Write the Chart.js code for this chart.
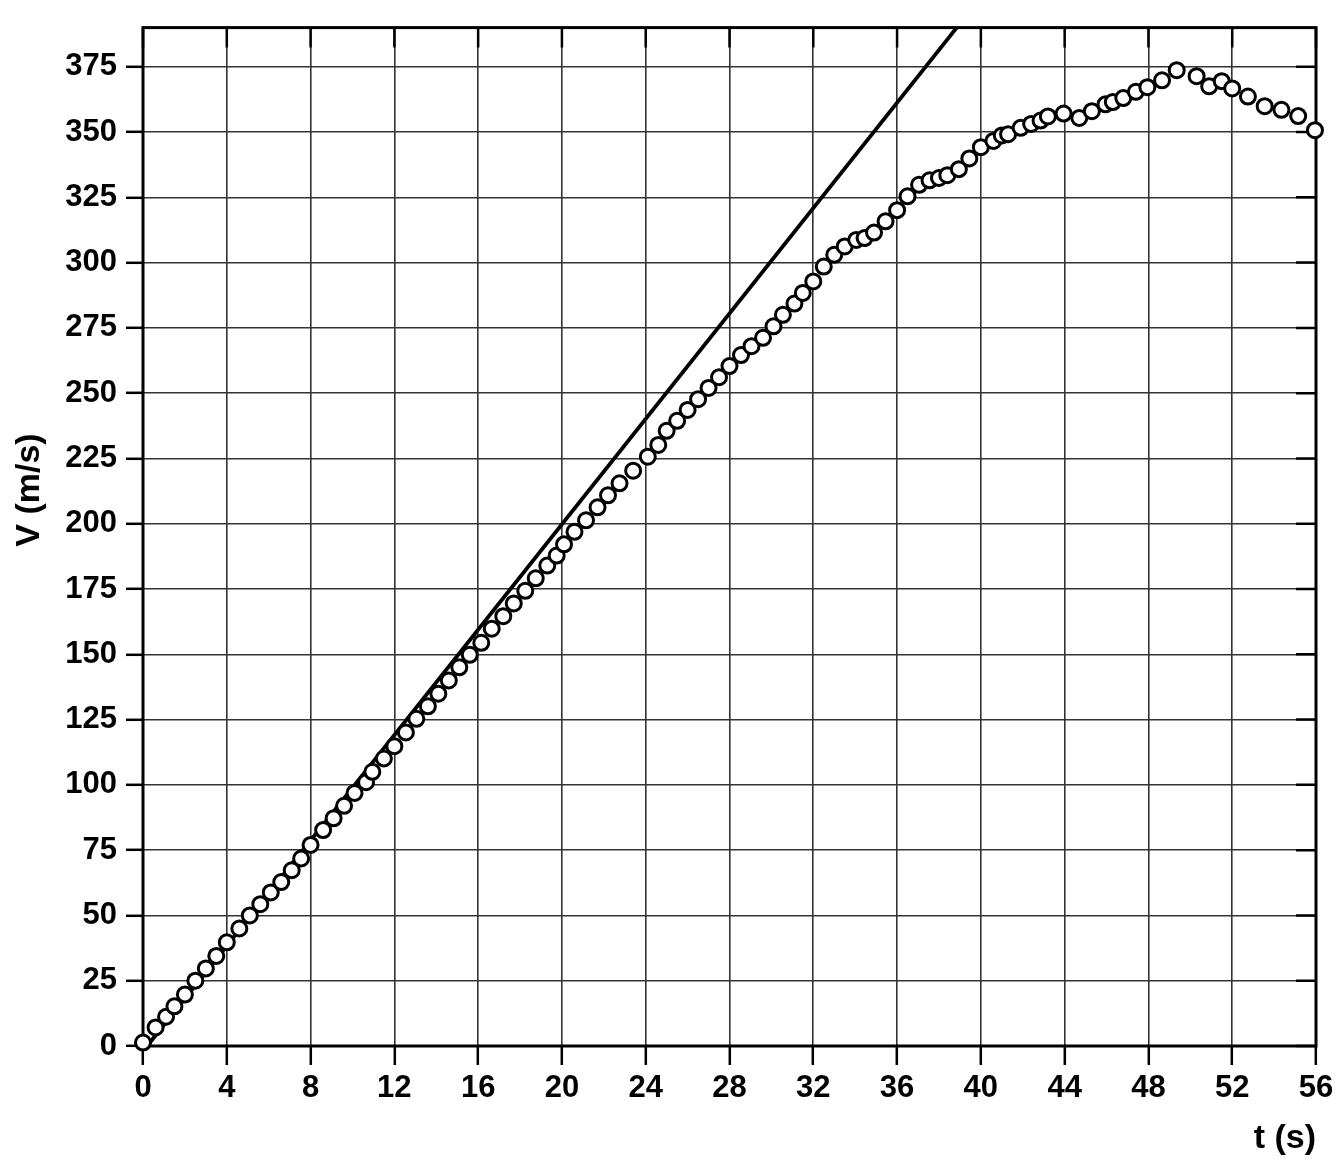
<!DOCTYPE html>
<html>
<head>
<meta charset="utf-8">
<script src="https://cdn.jsdelivr.net/npm/chart.js@4.4.1/dist/chart.umd.min.js"></script>
<style>
  html, body { margin: 0; padding: 0; background: #fff; }
  #wrap { width: 1339px; height: 1175px; }
</style>
</head>
<body>
<div id="wrap"><canvas id="chart" width="1339" height="1175"></canvas></div>
<script>
// measured speed V (m/s) against time t (s)
const times = [0, 0.6, 1.1, 1.5, 2.0, 2.5, 3.0, 3.5, 4.0, 4.6, 5.1, 5.6, 6.1, 6.6, 7.1, 7.55,
  8.0, 8.6, 9.1, 9.6, 10.1, 10.65, 10.95, 11.5, 12.0, 12.55, 13.05, 13.6, 14.1, 14.6, 15.1, 15.6,
  16.15, 16.65, 17.2, 17.7, 18.25, 18.75, 19.3, 19.75, 20.1, 20.6, 21.15, 21.7, 22.2, 22.75, 23.4,
  24.1, 24.6, 25.0, 25.5, 26.0, 26.5, 27.0, 27.5, 28.0, 28.55, 29.05, 29.6, 30.1, 30.55, 31.1, 31.5,
  32.0, 32.5, 33.0, 33.5, 34.05, 34.45, 34.9, 35.45, 36.0, 36.5, 37.05, 37.55, 38.0, 38.4, 38.95, 39.45,
  40.0, 40.6, 41.0, 41.3, 41.9, 42.4, 42.85, 43.2, 43.95, 44.7, 45.3, 45.95, 46.3, 46.8, 47.4, 47.95,
  48.65, 49.35, 50.3, 50.9, 51.5, 52.0, 52.75, 53.55, 54.35, 55.15, 55.95];
const speeds = [1.3, 7.1, 11.2, 15.2, 19.7, 25, 29.7, 34.5, 39.7, 45, 50, 54.3, 58.8, 62.8, 67.3, 71.8,
  77.0, 82.7, 87.2, 92.0, 96.9, 101.0, 105.0, 110.1, 114.8, 120.1, 125.3, 130.1, 134.9, 140, 145, 149.8,
  154.4, 159.8, 164.6, 169.5, 174.3, 179.1, 184.0, 187.8, 192.1, 196.9, 201.3, 206.3, 210.9, 215.5, 220.3,
  225.7, 230.2, 235.6, 239.4, 243.6, 247.7, 252.0, 256.1, 260.4, 264.6, 268.0, 271.2, 275.6, 280.0, 284.3, 288.4,
  292.8, 298.5, 303.0, 306.2, 308.7, 309.4, 311.5, 315.8, 320.1, 325.4, 329.8, 331.5, 332.4, 333.5, 335.8, 339.9,
  344.2, 346.6, 348.7, 349.2, 351.6, 353.1, 354.4, 356.0, 357.1, 355.4, 358.0, 360.6, 361.5, 363.0, 365.4, 367.2,
  369.8, 373.7, 371.4, 367.5, 369.5, 366.7, 363.6, 359.9, 358.5, 356.1, 350.7];

// straight reference line
const fitT = [0.2, 38.85];
const fitV = [0, 390];

const xTicks = [0, 4, 8, 12, 16, 20, 24, 28, 32, 36, 40, 44, 48, 52, 56];
const yTicks = [0, 25, 50, 75, 100, 125, 150, 175, 200, 225, 250, 275, 300, 325, 350, 375];

const FONT = "'Liberation Sans', Arial, sans-serif";
Chart.defaults.font.family = FONT;
Chart.defaults.color = '#000';

const framePlugin = {
  id: 'frame',
  beforeDatasetsDraw(chart) {
    const { ctx, chartArea: a, scales } = chart;
    ctx.save();
    // short inward ticks on the top and right edges
    ctx.strokeStyle = '#000';
    ctx.lineWidth = 2.5;
    ctx.beginPath();
    scales.x.ticks.forEach(t => {
      const px = scales.x.getPixelForValue(t.value);
      ctx.moveTo(px, a.top);
      ctx.lineTo(px, a.top + 20);
    });
    scales.y.ticks.forEach(t => {
      const py = scales.y.getPixelForValue(t.value);
      ctx.moveTo(a.right, py);
      ctx.lineTo(a.right - 20, py);
    });
    ctx.stroke();
    ctx.lineWidth = 3;
    ctx.strokeRect(a.left, a.top, a.right - a.left, a.bottom - a.top);
    ctx.restore();
  },
  afterDraw(chart) {
    const ctx = chart.ctx;
    ctx.save();
    ctx.translate(30, 490);
    ctx.rotate(-Math.PI / 2);
    ctx.font = 'bold 34px ' + FONT;
    ctx.fillStyle = '#000';
    ctx.textAlign = 'center';
    ctx.textBaseline = 'middle';
    ctx.fillText('V (m/s)', 0, 0);
    ctx.restore();
  }
};

new Chart(document.getElementById('chart'), {
  type: 'scatter',
  data: {
    datasets: [
      {
        data: times.map((t, i) => ({ x: t, y: speeds[i] })),
        radius: 7.5,
        pointRadius: 7.5,
        borderWidth: 3,
        pointBorderWidth: 3,
        borderColor: '#000',
        pointBorderColor: '#000',
        backgroundColor: '#fff',
        pointBackgroundColor: '#fff',
        showLine: false,
        clip: false
      },
      {
        type: 'line',
        data: fitT.map((t, i) => ({ x: t, y: fitV[i] })),
        borderColor: '#000',
        borderWidth: 3.8,
        pointRadius: 0,
        fill: false
      }
    ]
  },
  options: {
    responsive: false,
    animation: false,
    devicePixelRatio: 1,
    layout: { padding: { top: 25, right: 23, left: 0, bottom: 0 } },
    plugins: { legend: { display: false }, tooltip: { enabled: false } },
    scales: {
      x: {
        type: 'linear',
        min: 0, max: 56,
        afterBuildTicks: s => { s.ticks = xTicks.map(v => ({ value: v })); },
        afterFit: s => { s.height = 129; },
        border: { display: false },
        grid: { color: '#333', lineWidth: 1.6, tickLength: 19, tickColor: '#000', tickWidth: 2.5 },
        ticks: { font: { size: 31, weight: 'bold' }, padding: 5, maxRotation: 0 },
        title: {
          display: true, text: 't (s)', align: 'end',
          font: { size: 34, weight: 'bold' },
          padding: { top: 0, bottom: 16 }
        }
      },
      y: {
        type: 'linear',
        min: 0, max: 390,
        afterBuildTicks: s => { s.ticks = yTicks.map(v => ({ value: v })); },
        afterFit: s => { s.width = 143; },
        border: { display: false },
        grid: { color: '#333', lineWidth: 1.6, tickLength: 17, tickColor: '#000', tickWidth: 2.5 },
        ticks: { font: { size: 31, weight: 'bold' }, padding: 9 }
      }
    }
  },
  plugins: [framePlugin]
});
</script>
</body>
</html>
